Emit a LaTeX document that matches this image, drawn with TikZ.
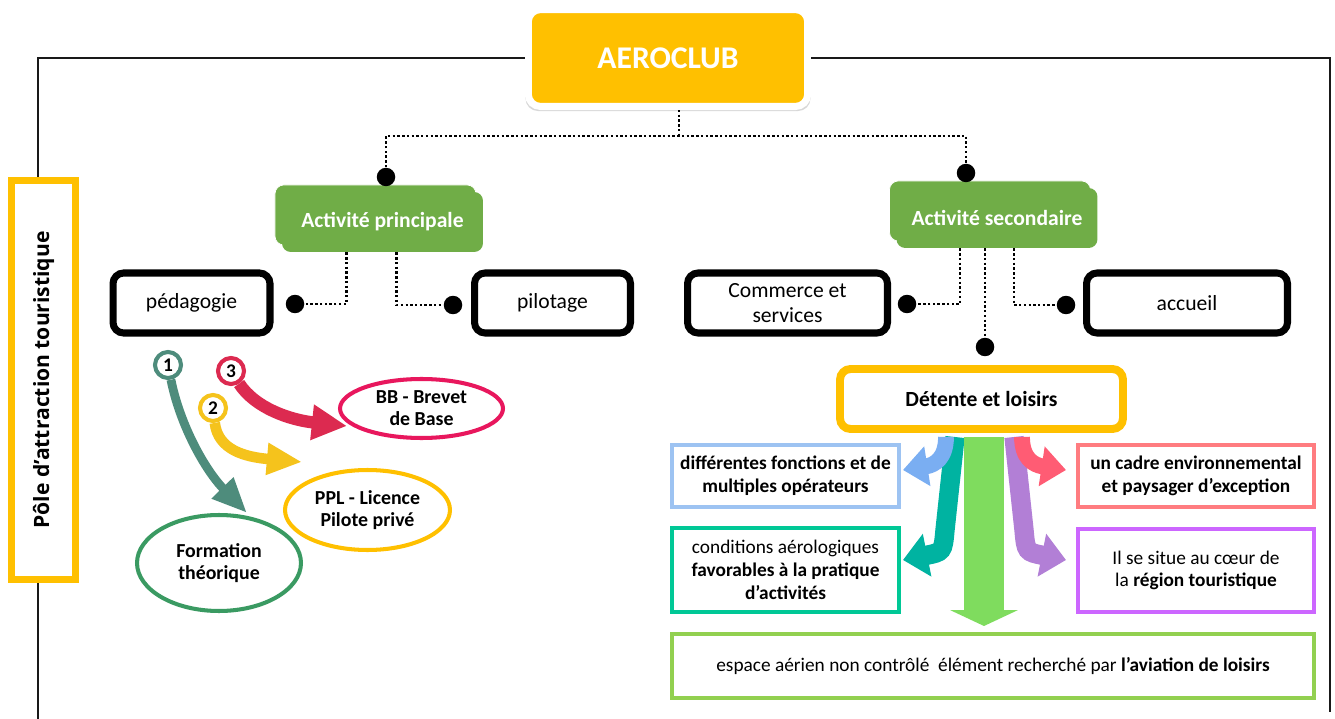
\documentclass[tikz,border=0pt]{standalone}
\usepackage{fontspec}
\setmainfont{Carlito}
\newfontfamily\polefont{Open Sans}
\usetikzlibrary{arrows.meta,shapes.geometric,shadows}
\definecolor{clubyellow}{HTML}{FFC000}
\definecolor{actgreen}{HTML}{70AD47}
\definecolor{blueb}{HTML}{9DC3F2}
\definecolor{redb}{HTML}{FF7C80}
\definecolor{tealb}{HTML}{00C896}
\definecolor{purpb}{HTML}{CC66FF}
\definecolor{greenb}{HTML}{92D050}
\definecolor{bbred}{HTML}{E8175D}
\definecolor{formgreen}{HTML}{3A9A62}
\definecolor{tealgray}{HTML}{4E8C7C}
\definecolor{arrred}{HTML}{DC2A50}
\definecolor{arryel}{HTML}{F5C31C}
\definecolor{arrgreen}{HTML}{7FDC5E}
\definecolor{arrblue}{HTML}{7AAEF2}
\definecolor{arrteal}{HTML}{00B3A1}
\definecolor{arrpink}{HTML}{FF5C74}
\definecolor{arrpurp}{HTML}{B27FD6}

\begin{document}
\begin{tikzpicture}[x=0.02cm,y=-0.02cm,
  frame/.style={line width=1.6pt, black!90},
  link/.style={line width=1.4pt, dash pattern=on 1.4pt off 1.3pt},
  dot/.style={circle, fill=black, inner sep=0pt, minimum size=0.37cm},
  topbox/.style={rounded corners=7pt, fill=clubyellow, draw=white, line width=4pt,
    minimum width=5.59cm, minimum height=1.94cm, text=white,
    font=\bfseries\fontsize{18}{20}\selectfont,
    drop shadow={opacity=0.3, shadow xshift=0pt, shadow yshift=-2pt, shadow scale=1.02}},
  pole/.style={draw=clubyellow, line width=4pt, fill=white, minimum width=8cm,
    minimum height=1.28cm, font=\polefont\bfseries\fontsize{12}{14}\selectfont},
  actbox/.style={rounded corners=5pt, fill=actgreen, minimum width=4.02cm,
    minimum height=1.2cm, text=white, font=\bfseries\fontsize{12.3}{14}\selectfont,
    copy shadow={fill=actgreen, draw=white, line width=0.4pt, shadow xshift=-4pt, shadow yshift=4pt}},
  subbox/.style={rounded corners=6pt, draw=black, line width=4pt, fill=white,
    minimum height=1.2cm, align=center, font=\fontsize{12.3}{14}\selectfont,
    drop shadow={opacity=0.25, shadow xshift=1pt, shadow yshift=-1.5pt}},
  detbox/.style={rounded corners=6pt, draw=clubyellow, line width=4.5pt, fill=white,
    minimum width=5.66cm, minimum height=1.2cm, font=\bfseries\fontsize{12.3}{14}\selectfont,
    drop shadow={opacity=0.25, shadow xshift=1pt, shadow yshift=-1.5pt}},
  facbox/.style={draw=#1, line width=2.3pt, fill=white, minimum width=4.54cm,
    minimum height=1.24cm, align=center, inner sep=1pt, font=\fontsize{11}{13}\selectfont},
  goal/.style={ellipse, draw=#1, line width=2.3pt, inner sep=0pt, align=center,
    font=\bfseries\fontsize{11.3}{12.5}\selectfont},
  num/.style={circle, draw=#1, line width=2.3pt, fill=white, inner sep=0pt,
    minimum size=0.52cm, font=\bfseries\fontsize{11}{12}\selectfont}
]
\useasboundingbox[fill=white] (0,0) rectangle (1335,719);

\node[topbox] (aeroclub) at (668,58) {AEROCLUB};
\draw[frame] (aeroclub.west) -| (38,719);
\draw[frame] (aeroclub.east) -| (1330,712);
\node[pole, rotate=90] (pole) at (43.5,380) {Pôle d’attraction touristique};

\node[actbox] (actp) at (382.5,222) {Activité principale};
\node[actbox] (acts) at (997,218) {Activité secondaire};
\node[dot] (dp) at (386,177) {};
\node[dot] (ds) at (966,173) {};
\coordinate (hub) at (679,136);
\draw[link] (aeroclub.south -| hub) -- (hub);
\draw[link] (dp) |- (hub) -| (ds);

\node[subbox, minimum width=3.14cm] (peda) at (191.5,303) {pédagogie};
\node[subbox, minimum width=3.12cm] (pilot) at (552.5,303) {pilotage};
\node[subbox, minimum width=4cm] (comm) at (787.5,303) {Commerce et\\services};
\node[subbox, minimum width=4.02cm] (accu) at (1187,303) {accueil};
\node[dot] (dped) at (295,304) {};
\node[dot] (dpil) at (453,305) {};
\node[dot] (dcom) at (907,304) {};
\node[dot] (dacc) at (1066,305) {};
\node[dot] (ddet) at (985,347) {};
\draw[link] (actp.south) ++(-36,0) |- (dped);
\draw[link] (actp.south) ++(14,0) |- (dpil);
\draw[link] (acts.south) ++(-37,0) |- (dcom);
\draw[link] (acts.south) ++(17,0) |- (dacc);
\draw[link] (acts.south -| ddet) -- (ddet);

\node[detbox] (detente) at (981.5,399) {Détente et loisirs};

\coordinate (c0) at (955,437); \coordinate (c1) at (903,560);
\coordinate (p0) at (1014,437); \coordinate (p1) at (1066,560);
\coordinate (b0) at (946,437); \coordinate (b1) at (903,470);
\coordinate (r0) at (1022,437); \coordinate (r1) at (1066,470);
\coordinate (g0) at (984,437); \coordinate (g1) at (984,626);
\draw[line width=11pt, arrteal, -{Triangle[width=24pt,length=14pt]}] (c0) -- (945,530) .. controls (943,552) .. (c1);
\draw[line width=11pt, arrpurp, -{Triangle[width=24pt,length=14pt]}] (p0) -- (1024,530) .. controls (1026,552) .. (p1);
\draw[line width=9pt, arrblue, -{Triangle[width=22pt,length=14pt]}] (b0) .. controls (946,458) and (935,465) .. (b1);
\draw[line width=9pt, arrpink, -{Triangle[width=22pt,length=14pt]}] (r0) .. controls (1022,458) and (1033,465) .. (r1);
\draw[line width=23pt, arrgreen, -{Triangle[width=38pt,length=9pt]}] (g0) -- (g1);

\node[facbox=blueb, font=\bfseries\fontsize{11}{13}\selectfont] (fonc) at (785.5,476) {différentes fonctions et de\\multiples opérateurs};
\node[facbox=redb, minimum width=4.72cm, font=\bfseries\fontsize{11}{13}\selectfont] (cadre) at (1196,476) {un cadre environnemental\\et paysager d’exception};
\node[facbox=tealb, minimum height=1.68cm] (cond) at (785.5,570) {conditions aérologiques\\\textbf{favorables à la pratique}\\\textbf{d’activités}};
\node[facbox=purpb, minimum width=4.72cm, minimum height=1.66cm] (coeur) at (1196,570.5) {Il se situe au cœur de\\la \textbf{région touristique}};
\node[facbox=greenb, minimum width=12.84cm, minimum height=1.28cm] (espace) at (993,666) {espace aérien non contrôlé\ \ élément recherché par \textbf{l’aviation de loisirs}};

\node[goal=bbred, minimum width=3.26cm, minimum height=1.18cm] (bb) at (421.5,408.5) {BB - Brevet\\de Base};
\node[goal=clubyellow, minimum width=3.3cm, minimum height=1.6cm] (ppl) at (367.5,510) {PPL - Licence\\Pilote privé};
\node[goal=formgreen, minimum width=3.28cm, minimum height=1.92cm] (form) at (219,563) {Formation\\théorique};

\node[num=tealgray] (n1) at (168,365) {1};
\node[num=arryel] (n2) at (213,408) {2};
\node[num=arrred] (n3) at (231,371) {3};
\coordinate (t1) at (247,513);
\coordinate (t2) at (302,462);
\coordinate (t3) at (347,426);
\draw[line width=5pt, tealgray, -{Triangle[width=16pt,length=20pt]}] (n1) .. controls (180,425) and (205,470) .. (t1);
\draw[line width=6pt, arryel, -{Triangle[width=17pt,length=20pt]}] (n2) .. controls (218,450) and (245,457) .. (t2);
\draw[line width=7pt, arrred, -{Triangle[width=19pt,length=20pt]}] (n3) .. controls (255,408) and (290,420) .. (t3);
\end{tikzpicture}
\end{document}
